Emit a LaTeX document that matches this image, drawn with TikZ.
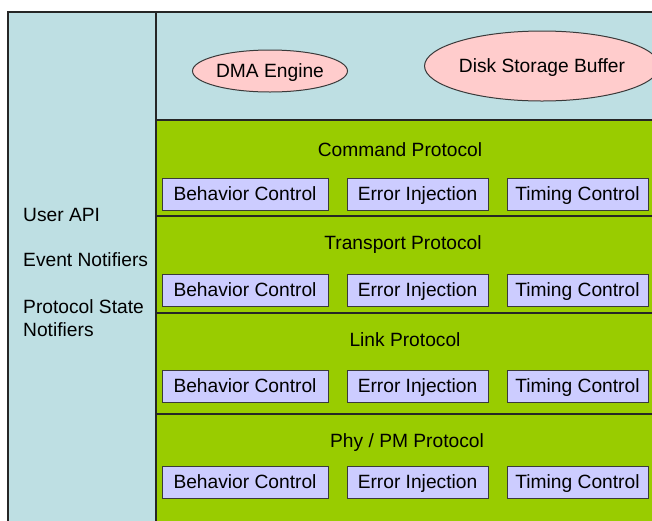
\documentclass[tikz,border=0pt]{standalone}
\usepackage{fontspec}
\setmainfont{Liberation Sans}
\usetikzlibrary{shapes.geometric}
\definecolor{panelblue}{HTML}{BEDFE3}
\definecolor{layergreen}{HTML}{99CC00}
\definecolor{ctrlfill}{HTML}{CCCCFF}
\definecolor{bufpink}{HTML}{FFCCCC}
\definecolor{edgegray}{HTML}{3A3A3A}
\tikzset{
  txt/.style={font=\fontsize{19.2}{23}\selectfont, text=black},
  lbl/.style={txt, inner sep=0pt},
  ctrl/.style={txt, draw=edgegray, line width=1pt, fill=ctrlfill, minimum height=32pt,
               inner sep=0pt, text height=13.8pt, text depth=0pt},
  buf/.style={txt, ellipse, draw=edgegray, line width=1pt, fill=bufpink, inner sep=0pt,
              text height=13.8pt, text depth=0pt},
  rule/.style={line width=2pt, draw=black!85}
}
\begin{document}
\begin{tikzpicture}[x=1pt, y=-1pt]
\useasboundingbox (0,0) rectangle (652,520);
\fill[white] (0,0) rectangle (652,520);
% panels
\fill[panelblue] (8,12) rectangle (660,530);
\fill[layergreen] (156,120) rectangle (660,530);
% frame and dividers
\draw[rule] (8,530) -- (8,12) -- (660,12);
\draw[rule] (156,12) -- (156,530);
\draw[rule] (156,120) -- (660,120);
\draw[rule] (156,216) -- (660,216);
\draw[rule] (156,313) -- (660,313);
\draw[rule] (156,414) -- (660,414);
% buffers
\node[buf, minimum width=155pt, minimum height=42pt] (dma) at (270,71) {DMA Engine};
\node[buf, minimum width=199pt, minimum height=70pt] (disk) at (542,66) {Disk Storage Buffer};
% left panel labels
\node[lbl, anchor=west] (api) at (23,215) {User API};
\node[lbl, anchor=west] (evt) at (23,260) {Event Notifiers};
\node[lbl, anchor=west, align=left] (pst) at (23,318) {Protocol State\\Notifiers};
% layer titles
\node[lbl] (cmd) at (400,150) {Command Protocol};
\node[lbl] (trn) at (403,245) {Transport Protocol};
\node[lbl] (lnk) at (405,340) {Link Protocol};
\node[lbl] (phy) at (407,443) {Phy / PM Protocol};
% control rows
\foreach \r/\y in {1/194, 2/290, 3/386, 4/482} {
  \node[ctrl, minimum width=166pt] (bc\r) at (245,\y) {Behavior Control};
  \node[ctrl, minimum width=141pt] (ei\r) at (417.5,\y) {Error Injection};
  \node[ctrl, minimum width=141pt] (tc\r) at (577.5,\y) {Timing Control};
}
\end{tikzpicture}
\end{document}
